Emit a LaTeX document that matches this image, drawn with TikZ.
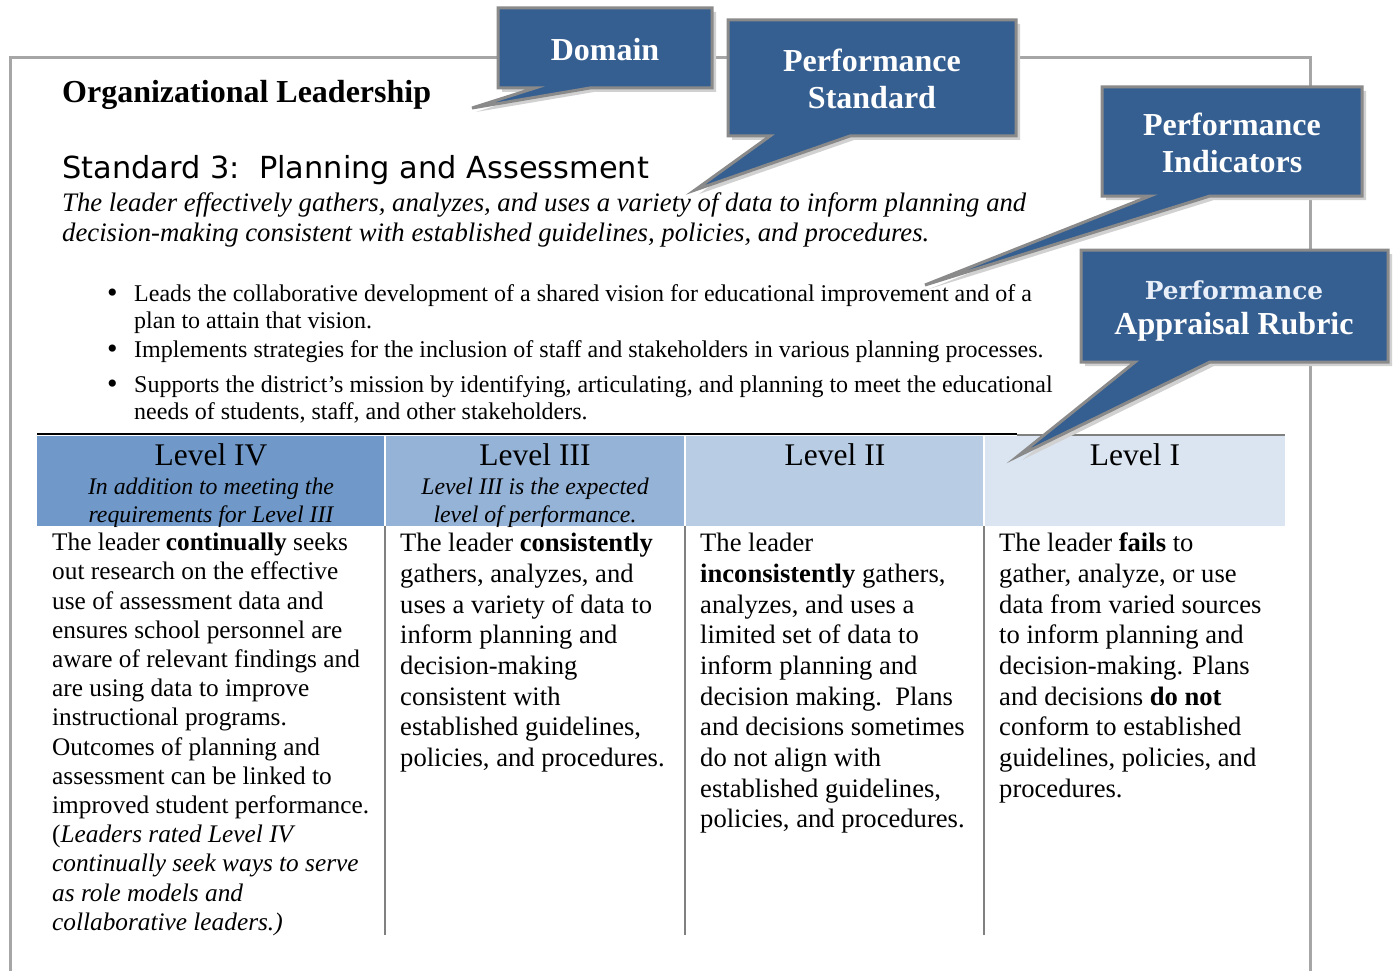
\documentclass[tikz,border=0pt]{standalone}
\usepackage{fontspec}
\setmainfont{Liberation Serif}
\newfontfamily\headsans{DejaVu Sans}
\newfontfamily\wideserif{DejaVu Serif}
\definecolor{cblue}{HTML}{365F91}
\definecolor{cgray}{HTML}{8A8A8A}
\definecolor{framegray}{HTML}{A6A6A6}
\definecolor{lvfour}{HTML}{7099CA}
\definecolor{lvthree}{HTML}{95B3D7}
\definecolor{lvtwo}{HTML}{B8CCE4}
\definecolor{lvone}{HTML}{DBE5F1}
\definecolor{rubtext}{HTML}{E8EFF8}
\definecolor{fragblue}{HTML}{4A7EBB}
\tikzset{
  calloutshape/.style={fill=cblue, draw=cgray, line width=3, line join=miter},
  calloutshadow/.style={fill=black!18, draw=none},
  ctext/.style={text=white, font=\bfseries\fontsize{32}{37.5}\selectfont, align=center, inner sep=0},
  bodycell/.style={anchor=north west, align=left, inner sep=0},
  bodyA/.style={bodycell, font=\fontsize{25.3}{29.2}\selectfont},
  bodyB/.style={bodycell, font=\fontsize{26.6}{30.7}\selectfont},
  levtitle/.style={font=\fontsize{31.5}{36}\selectfont, inner sep=0, anchor=base},
  levsub/.style={font=\itshape\fontsize{23.8}{28}\selectfont, inner sep=0, anchor=north, align=center},
  bulletline/.style={anchor=base west, inner sep=0, font=\fontsize{24}{27}\selectfont},
  bulletdot/.style={anchor=base west, inner sep=0, font=\fontsize{30}{30}\selectfont},
  desctext/.style={anchor=base west, inner sep=0, font=\itshape\fontsize{26.7}{30}\selectfont},
  colline/.style={draw=gray, line width=1.5}
}
\begin{document}
\begin{tikzpicture}[x=1pt,y=-1pt]
\useasboundingbox (0,0) rectangle (1397,971);
\fill[white] (0,0) rectangle (1397,971);
% fragment at top
\draw[fragblue, line width=1.5] (186,-4) arc[start angle=160, end angle=200, radius=14];
\draw[fragblue, line width=1.5] (266,-4) arc[start angle=20, end angle=-20, radius=14];
% outer frame
\draw[framegray, line width=3] (10,971) -- (10,58) -- (1310,58) -- (1310,971);
% header cells
\fill[lvfour] (37,436) rectangle (384,526);
\fill[lvthree] (386,436) rectangle (684,526);
\fill[lvtwo] (686,436) rectangle (983,526);
\fill[lvone] (985,436) rectangle (1285,526);
\draw[black, line width=2.2] (37,434) -- (1017,434);
\draw[gray, line width=1.5] (1017,435) -- (1285,435);
\draw[colline] (385,526) -- (385,935);
\draw[colline] (685,526) -- (685,935);
\draw[colline] (984,526) -- (984,935);
% titles
\node[anchor=base west, inner sep=0, font=\bfseries\fontsize{32}{38}\selectfont] (orgl) at (62,103) {Organizational Leadership};
\node[anchor=base west, inner sep=0, font=\headsans\fontsize{30.4}{36}\selectfont] (std) at (62,178) {Standard 3:\ \ Planning and Assessment};
\node[desctext] (desc1) at (62,211) {The leader effectively gathers, analyzes, and uses a variety of data to inform planning and};
\node[desctext] (desc2) at (62,241) {decision-making consistent with established guidelines, policies, and procedures.};
% bullets
\node[bulletline] (b1a) at (134,301) {Leads the collaborative development of a shared vision for educational improvement and of a};
\node[bulletline] (b1b) at (134,328) {plan to attain that vision.};
\node[bulletline] (b2) at (134,357) {Implements strategies for the inclusion of staff and stakeholders in various planning processes.};
\node[bulletline] (b3a) at (134,392) {Supports the district’s mission by identifying, articulating, and planning to meet the educational};
\node[bulletline] (b3b) at (134,419) {needs of students, staff, and other stakeholders.};
\foreach \yy/\nm in {302/d1,358/d2,393/d3} \node[bulletdot] (\nm) at (107,\yy) {\textbullet};
% level headers
\node[levtitle] (l4) at (211,465) {Level IV};
\node[levtitle] (l3) at (535,465) {Level III};
\node[levtitle] (l2) at (835,465) {Level II};
\node[levtitle] (l1) at (1135,465) {Level I};
\node[levsub] (s4) at (211,478) {In addition to meeting the\\requirements for Level III};
\node[levsub] (s3) at (535,478) {Level III is the expected\\level of performance.};
% body cells
\node[bodyA] (c4) at (52,530) {\strut The leader \textbf{continually} seeks\\out research on the effective\\use of assessment data and\\ensures school personnel are\\aware of relevant findings and\\are using data to improve\\instructional programs.\\Outcomes of planning and\\assessment can be linked to\\improved student performance.\\(\textit{Leaders rated Level IV}\\\textit{continually seek ways to serve}\\\textit{as role models and}\\\textit{collaborative leaders.)}};
\node[bodyB] (c3) at (400,530) {\strut The leader \textbf{consistently}\\gathers, analyzes, and\\uses a variety of data to\\inform planning and\\decision-making\\consistent with\\established guidelines,\\policies, and procedures.};
\node[bodyB] (c2) at (700,530) {\strut The leader\\\textbf{inconsistently} gathers,\\analyzes, and uses a\\limited set of data to\\inform planning and\\decision making.\ \ Plans\\and decisions sometimes\\do not align with\\established guidelines,\\policies, and procedures.};
\node[bodyB] (c1) at (999,530) {\strut The leader \textbf{fails} to\\gather, analyze, or use\\data from varied sources\\to inform planning and\\decision-making. Plans\\and decisions \textbf{do not}\\conform to established\\guidelines, policies, and\\procedures.};
% callouts
\fill[calloutshadow] (502,12) -- (716,12) -- (716,92) -- (594,92) -- (476,112) -- (539,92) -- (502,92) -- cycle;
\draw[calloutshape] (498,8) -- (712,8) -- (712,88) -- (590,88) -- (472,108) -- (535,88) -- (498,88) -- cycle;
\node[ctext] (domain) at (605,50) {Domain};
\fill[calloutshadow] (732,24) -- (1020,24) -- (1020,140) -- (854,140) -- (699,194) -- (774,140) -- (732,140) -- cycle;
\draw[calloutshape] (728,20) -- (1016,20) -- (1016,136) -- (850,136) -- (695,190) -- (770,136) -- (728,136) -- cycle;
\node[ctext] (pstd) at (872,79) {Performance\\Standard};
\fill[calloutshadow] (1106,91) -- (1366,91) -- (1366,200) -- (1214,200) -- (929,289) -- (1154,200) -- (1106,200) -- cycle;
\draw[calloutshape] (1102,87) -- (1362,87) -- (1362,196) -- (1210,196) -- (925,285) -- (1150,196) -- (1102,196) -- cycle;
\node[ctext] (pind) at (1232,143) {Performance\\Indicators};
\fill[calloutshadow] (1085,254) -- (1392,254) -- (1392,366) -- (1214,366) -- (1022,460) -- (1139,366) -- (1085,366) -- cycle;
\draw[calloutshape] (1081,250) -- (1388,250) -- (1388,362) -- (1210,362) -- (1018,456) -- (1135,362) -- (1081,362) -- cycle;
\node[inner sep=0, text=rubtext, font=\wideserif\bfseries\fontsize{24.8}{28}\selectfont] (prub1) at (1234,290) {Performance};
\node[ctext] (prub2) at (1234,327) {Appraisal Rubric};
\end{tikzpicture}
\end{document}
